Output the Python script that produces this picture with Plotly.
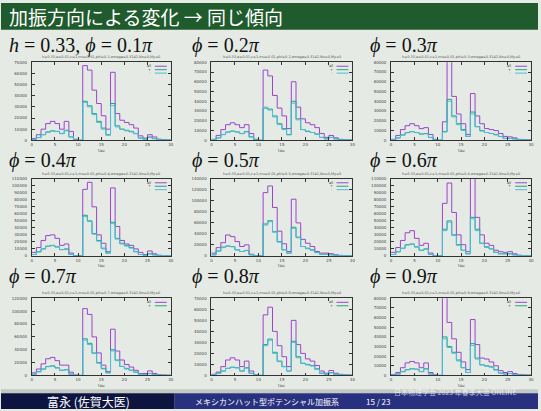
import plotly.graph_objects as go

W, H = 541, 411

# tau bin edges (shared by every histogram)
tau_edges = [0, 1, 2, 3, 4, 5, 6, 7, 8, 9, 10, 11, 12, 13, 14, 15,
             16, 17, 18, 19, 20, 21, 22, 23, 24, 25, 26, 27, 28, 29, 30]
x_ticks = [0, 5, 10, 15, 20, 25, 30]

# counts per tau bin, in units of 1000
all_01 = [1.5, 5, 10, 15, 17, 15, 10, 17, 8, 1, 0, 67, 63, 45, 33, 22, 10, 61, 24, 18, 16, 14, 11, 4, 2, 5, 3, 1, 0.5, 0.3]
plus_01 = [0.8, 2.5, 5, 7.5, 8.5, 8, 6, 9, 3, 0.5, 0, 35, 31, 24, 17, 11, 5, 33, 13, 10, 9, 8, 6, 2, 1, 3, 1.5, 0.5, 0.3, 0.2]
minus_01 = [0.7, 2.4, 5.2, 7.3, 8.3, 7.8, 6.2, 8.5, 3.2, 0.4, 0, 34, 30, 23, 16, 10, 4.5, 31, 12, 10, 8.5, 7.5, 6, 2, 1, 2.5, 1.5, 0.5, 0.3, 0.2]

all_02 = [1, 5, 11, 16, 18, 16, 13, 16, 7, 1, 0, 72, 66, 46, 33, 25, 12, 60, 34, 22, 18, 16, 13, 7, 3, 5, 2.5, 1, 0.5, 0.3]
plus_02 = [0.5, 2.5, 6, 8.5, 9.5, 8.5, 7, 9, 3.5, 0.5, 0, 33, 32, 25, 17, 12, 6, 40, 22, 11, 9, 8, 6.5, 3, 1.5, 3, 1.5, 0.5, 0.3, 0.2]
minus_02 = [0.6, 2.6, 5.8, 8.3, 9.2, 8.6, 6.8, 8.6, 3.3, 0.4, 0, 34, 31, 24, 16, 11, 5.5, 38, 21, 11, 9.5, 8, 6, 3, 1.5, 2.8, 1.4, 0.5, 0.3, 0.2]

all_03 = [1, 5, 11, 15, 17, 15, 12, 13, 6, 1, 0, 19, 84, 45, 27, 17, 6, 48, 25, 17, 12, 11, 10, 7, 4, 3.5, 2.5, 1, 0.8, 0.5]
plus_03 = [0.5, 2.5, 5.5, 8, 9, 8, 6.5, 7, 3, 0.5, 0, 9, 42, 25, 17, 11, 4, 29, 14, 10, 8, 7, 6, 4, 2, 2, 1.5, 0.6, 0.4, 0.3]
minus_03 = [0.5, 2.4, 5.3, 7.7, 8.8, 7.9, 6.3, 6.6, 2.8, 0.4, 0, 8.5, 40, 24, 16, 10, 4, 27, 14, 9.5, 8, 7, 5.5, 3.8, 2, 1.8, 1.3, 0.6, 0.4, 0.3]

all_04 = [5, 12, 22, 29, 30, 25, 15, 17, 4, 0.5, 0, 95, 105, 70, 30, 18, 6, 97, 42, 22, 17, 15, 10, 5, 2, 7, 3, 1, 0.5, 0.3]
plus_04 = [2, 6, 10, 14, 15, 13, 9, 10, 2, 0.3, 0, 58, 50, 32, 22, 11, 4, 48, 25, 18, 15, 12, 6, 2, 1, 3, 1.5, 0.5, 0.3, 0.2]
minus_04 = [2, 5.5, 10, 13.5, 14.5, 12.5, 9, 9, 2, 0.3, 0, 56, 49, 31, 21, 10, 4, 46, 24, 17, 14, 11, 6, 2, 1, 3, 1.5, 0.5, 0.3, 0.2]

all_05 = [5, 15, 24, 38, 35, 26, 17, 20, 3, 0.5, 0, 115, 127, 88, 45, 22, 8, 103, 60, 30, 23, 17, 8, 5, 5, 4, 2, 1, 0.5, 0.3]
plus_05 = [2, 9, 16, 18, 17, 11, 8, 10, 2, 0.3, 0, 58, 64, 44, 26, 11, 5, 52, 34, 17, 14, 11, 6, 3, 3, 2, 1, 0.5, 0.3, 0.2]
minus_05 = [2, 8.5, 15, 17.5, 16.5, 11, 8, 9.5, 2, 0.3, 0, 56, 62, 43, 25, 11, 5, 50, 33, 17, 13, 10, 6, 3, 2.5, 2, 1, 0.5, 0.3, 0.2]

all_06 = [5, 12, 22, 33, 36, 25, 15, 18, 4, 0.5, 0, 75, 104, 62, 30, 16, 6, 115, 55, 30, 18, 15, 8, 6, 5, 6, 3, 1, 0.5, 0.3]
plus_06 = [2, 6, 11, 16, 17, 13, 8, 10, 2, 0.3, 0, 38, 50, 30, 16, 8, 3, 55, 38, 18, 13, 10, 5, 3, 3, 3, 1.5, 0.5, 0.3, 0.2]
minus_06 = [2, 5.8, 10.5, 15.5, 16.5, 12.5, 8, 9.5, 2, 0.3, 0, 36, 48, 29, 15, 8, 3, 53, 36, 18, 12, 10, 5, 3, 2.8, 2.8, 1.5, 0.5, 0.3, 0.2]

all_07 = [4, 10, 18, 26, 28, 23, 16, 16, 5, 0.5, 0, 104, 95, 60, 35, 16, 6, 72, 38, 24, 17, 13, 8, 3, 3, 7, 3, 1, 0.5, 0.3]
plus_07 = [2, 6, 10, 14, 15, 12, 8, 9, 2, 0.3, 0, 57, 50, 35, 20, 11, 4, 40, 24, 14, 11, 8, 5, 2, 1.5, 3, 1.5, 0.5, 0.3, 0.2]
minus_07 = [2, 5.5, 9.5, 13.5, 14.5, 11.5, 8, 8.5, 2, 0.3, 0, 55, 48, 34, 19, 10, 4, 38, 23, 14, 10, 8, 5, 2, 1.5, 2.8, 1.4, 0.5, 0.3, 0.2]

all_08 = [1, 3, 8, 14, 16, 14, 8, 13, 4, 0.5, 0, 55, 62, 40, 27, 17, 8, 50, 28, 20, 15, 13, 9, 4, 2, 4.5, 2, 1, 0.5, 0.3]
plus_08 = [0.5, 2, 4, 6.5, 7.5, 7, 4, 7, 2, 0.3, 0, 28, 33, 21, 13, 8, 4, 31, 17, 11, 10, 9, 6, 2, 1, 2.5, 1, 0.5, 0.3, 0.2]
minus_08 = [0.5, 1.8, 3.8, 6.3, 7.3, 6.8, 4, 6.6, 1.8, 0.3, 0, 27, 32, 20, 12.5, 8, 4, 30, 16, 11, 9.5, 8.5, 5.5, 2, 1, 2.3, 1, 0.5, 0.3, 0.2]

all_09 = [1, 3, 8, 13, 14.5, 13, 8, 13, 3, 0.5, 0, 85, 55, 38, 24, 14, 6, 58, 32, 18, 17, 14, 10, 5, 3, 4, 2, 1, 0.5, 0.3]
plus_09 = [0.5, 1.5, 4, 6, 7, 6.5, 4, 7, 1.5, 0.2, 0, 40, 30, 24, 16, 8, 3, 33, 18, 11, 10, 9, 6, 2.5, 1.5, 2, 1, 0.5, 0.3, 0.2]
minus_09 = [0.5, 1.4, 3.8, 5.8, 6.8, 6.2, 4, 6.6, 1.5, 0.2, 0, 38, 29, 23, 15, 8, 3, 31, 17, 11, 9.5, 8.5, 5.5, 2.3, 1.4, 1.9, 1, 0.5, 0.3, 0.2]

phi_labels = ["<i>h</i> = 0.33, <i>ϕ</i> = 0.1<i>π</i>", "<i>ϕ</i> = 0.2<i>π</i>", "<i>ϕ</i> = 0.3<i>π</i>",
              "<i>ϕ</i> = 0.4<i>π</i>", "<i>ϕ</i> = 0.5<i>π</i>", "<i>ϕ</i> = 0.6<i>π</i>",
              "<i>ϕ</i> = 0.7<i>π</i>", "<i>ϕ</i> = 0.8<i>π</i>", "<i>ϕ</i> = 0.9<i>π</i>"]
phi_values = ["0.1", "0.2", "0.3", "0.4", "0.5", "0.6", "0.7", "0.8", "0.9"]
y_max = [70000, 80000, 80000, 110000, 140000, 110000, 120000, 70000, 80000]
y_step = [10000, 10000, 10000, 10000, 20000, 10000, 20000, 10000, 10000]
series_all = [all_01, all_02, all_03, all_04, all_05, all_06, all_07, all_08, all_09]
series_plus = [plus_01, plus_02, plus_03, plus_04, plus_05, plus_06, plus_07, plus_08, plus_09]
series_minus = [minus_01, minus_02, minus_03, minus_04, minus_05, minus_06, minus_07, minus_08, minus_09]
legend_names = ["all", "+", "-"]

# page geometry (pixels)
col_px = [(31, 171), (212, 354), (393, 534)]
row_px = [(60, 139), (178, 256), (299, 377)]
label_x = [6, 190, 370]
label_y = [43, 159, 277]

COL_ALL = "#9d44cc"
COL_PLUS = "#22a57f"
COL_MINUS = "#52badd"
BG = "#e5ebe4"
AXC = "#333333"
SERIF = "Liberation Serif, DejaVu Serif, serif"


def px(x):
    return x / W


def py(y):
    return 1 - y / H


fig = go.Figure()
shapes = []
annotations = []

for k in range(9):
    r, c = divmod(k, 3)
    n = "" if k == 0 else str(k + 1)
    (x0, x1), (y0, y1) = col_px[c], row_px[r]
    scale = 1000
    for vals, colr, name in ((series_all[k], COL_ALL, "all"),
                             (series_plus[k], COL_PLUS, "+"),
                             (series_minus[k], COL_MINUS, "-")):
        yv = [v * scale for v in vals]
        fig.add_trace(go.Scatter(
            x=tau_edges, y=yv + [yv[-1]], mode="lines", line_shape="hv",
            line=dict(color=colr, width=1), name=name, showlegend=False,
            xaxis="x" + n, yaxis="y" + n, hoverinfo="skip"))

    fig.update_layout(**{
        "xaxis" + n: dict(domain=[px(x0), px(x1)], anchor="y" + n, range=[0, 30],
                          tickvals=x_ticks, ticks="inside", ticklen=3, tickwidth=0.6,
                          tickcolor=AXC, showline=True, linecolor=AXC, linewidth=0.8,
                          mirror="ticks", showgrid=False, zeroline=False,
                          ticklabelstandoff=0,
                          tickfont=dict(size=4, color="#444", family="DejaVu Sans")),
        "yaxis" + n: dict(domain=[py(y1), py(y0)], anchor="x" + n, range=[0, y_max[k]],
                          dtick=y_step[k], tick0=0, tickformat="d", ticks="inside",
                          ticklen=3, tickwidth=0.6, tickcolor=AXC, showline=True,
                          linecolor=AXC, linewidth=0.8, mirror="ticks", showgrid=False,
                          zeroline=False, ticklabelstandoff=3,
                          tickfont=dict(size=4, color="#444", family="DejaVu Sans")),
    })

    # panel heading
    annotations.append(dict(x=px(label_x[c]), y=py(label_y[r]), xref="paper", yref="paper",
                            text=phi_labels[k], showarrow=False, xanchor="left",
                            yanchor="middle",
                            font=dict(size=20, color="#111", family=SERIF)))
    # gnuplot style title above the frame
    annotations.append(dict(x=px((x0 + x1) / 2), y=py(y0 - 5), xref="paper", yref="paper",
                            text="h=0.33,a=0.01,c=1,mu=0.01,phi=%s,omega=0.3142,Nx=0,My=0" % phi_values[k],
                            showarrow=False, xanchor="center", yanchor="middle",
                            font=dict(size=3.5, color="#555", family="DejaVu Sans")))
    # x-axis title
    annotations.append(dict(x=px((x0 + x1) / 2), y=py(y1 + 10), xref="paper", yref="paper",
                            text="tau", showarrow=False, xanchor="center", yanchor="middle",
                            font=dict(size=4, color="#444", family="DejaVu Sans")))
    # key in the upper right corner
    n_keys = 3 if r < 2 else 2
    for j, colr in enumerate((COL_ALL, COL_PLUS, COL_MINUS)[:n_keys]):
        ky = y0 + 4 + j * 3.5
        annotations.append(dict(x=px(x1 - 18), y=py(ky), xref="paper", yref="paper",
                                text=legend_names[j], showarrow=False, xanchor="right",
                                yanchor="middle",
                                font=dict(size=3.5, color="#333", family="DejaVu Sans")))
        shapes.append(dict(type="line", xref="paper", yref="paper",
                           x0=px(x1 - 16), x1=px(x1 - 4), y0=py(ky), y1=py(ky),
                           line=dict(color=colr, width=1)))

# frame title bar
shapes.append(dict(type="rect", xref="paper", yref="paper", x0=0, x1=1, y0=py(27), y1=1,
                   fillcolor="#1f5b2c", line=dict(width=0), layer="below"))
annotations.append(dict(x=px(6), y=py(14), xref="paper", yref="paper",
                        text="加振方向による変化 → 同じ傾向", showarrow=False,
                        xanchor="left", yanchor="middle",
                        font=dict(size=19, color="white", family="Noto Sans CJK JP")))

# body shadow and footline
shapes.append(dict(type="rect", xref="paper", yref="paper", x0=0, x1=1, y0=py(395), y1=py(391),
                   fillcolor="#c3c8c3", line=dict(width=0), layer="below"))
shapes.append(dict(type="rect", xref="paper", yref="paper", x0=0, x1=px(175), y0=0, y1=py(395),
                   fillcolor="#0d1440", line=dict(width=0), layer="below"))
shapes.append(dict(type="rect", xref="paper", yref="paper", x0=px(175), x1=1, y0=0, y1=py(395),
                   fillcolor="#283080", line=dict(width=0), layer="below"))
annotations.append(dict(x=px(88), y=py(403), xref="paper", yref="paper",
                        text="富永 (佐賀大医)", showarrow=False, xanchor="center",
                        yanchor="middle",
                        font=dict(size=12, color="white", family="Noto Sans CJK JP")))
annotations.append(dict(x=px(268), y=py(403), xref="paper", yref="paper",
                        text="メキシカンハット型ポテンシャル加振系", showarrow=False,
                        xanchor="center", yanchor="middle",
                        font=dict(size=8, color="white", family="Noto Sans CJK JP")))
annotations.append(dict(x=px(366), y=py(403), xref="paper", yref="paper",
                        text="15 / 23", showarrow=False, xanchor="left", yanchor="middle",
                        font=dict(size=8, color="white", family="Noto Sans CJK JP")))
annotations.append(dict(x=px(522), y=py(393.5), xref="paper", yref="paper",
                        text="日本物理学会 2023 年春季大会 ONLINE", showarrow=False,
                        xanchor="right", yanchor="middle",
                        font=dict(size=7, color="rgba(255,255,255,0.7)",
                                  family="Noto Sans CJK JP")))

fig.update_layout(width=W, height=H, margin=dict(l=0, r=0, t=0, b=0),
                  paper_bgcolor=BG, plot_bgcolor="rgba(0,0,0,0)",
                  shapes=shapes, annotations=annotations, showlegend=False)

fig.write_html("out.html", include_plotlyjs=True, config={"displayModeBar": False})
